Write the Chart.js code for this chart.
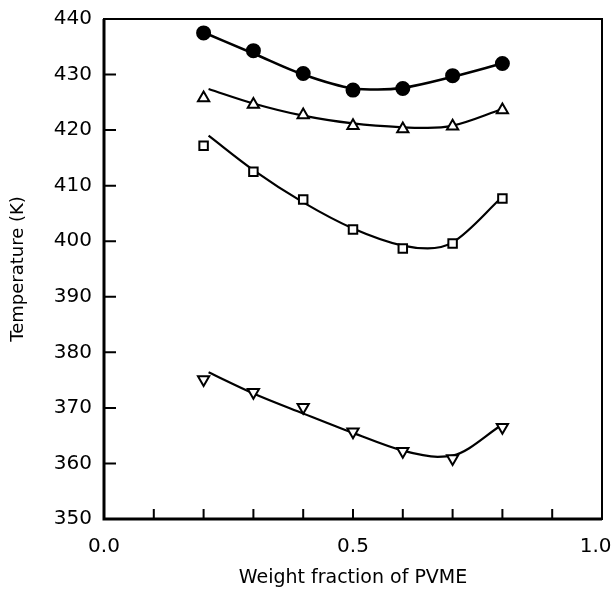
<!DOCTYPE html>
<html>
<head>
<meta charset="utf-8">
<title>Temperature vs weight fraction of PVME</title>
<script src="https://cdn.jsdelivr.net/npm/chart.js@4.4.0/dist/chart.umd.min.js"></script>
<style>
  html, body { margin: 0; padding: 0; background: #fff; }
  #wrap { width: 613px; height: 593px; }
</style>
</head>
<body>
<div id="wrap"><canvas id="chart"></canvas></div>
<script>
// measured points (weight fraction of PVME, temperature K)
const xs = [0.2, 0.3, 0.4, 0.5, 0.6, 0.7, 0.8];
const circleT = [437.5, 434.3, 430.2, 427.2, 427.5, 429.8, 432.0];
const triUpT = [425.8, 424.6, 422.7, 420.8, 420.2, 420.7, 423.6];
const squareT = [417.2, 412.5, 407.5, 402.1, 398.7, 399.6, 407.7];
const triDownT = [375.1, 372.8, 370.1, 365.7, 362.2, 360.9, 366.5];

// fitted curves
const circleFitX = [0.21, 0.3, 0.4, 0.5, 0.55, 0.6, 0.7, 0.8];
const circleFitT = [437.2, 433.8, 430.0, 427.5, 427.3, 427.6, 429.6, 432.0];
const triUpFitX = [0.21, 0.3, 0.4, 0.5, 0.6, 0.65, 0.7, 0.8];
const triUpFitT = [427.4, 424.8, 422.6, 421.2, 420.5, 420.4, 420.8, 423.8];
const squareFitX = [0.21, 0.3, 0.4, 0.5, 0.6, 0.65, 0.7, 0.8];
const squareFitT = [419.0, 412.8, 407.0, 402.3, 399.2, 398.7, 399.8, 408.0];
const triDownFitX = [0.21, 0.3, 0.4, 0.5, 0.6, 0.67, 0.7, 0.8];
const triDownFitT = [376.4, 372.6, 369.0, 365.5, 362.3, 361.2, 361.4, 367.0];

// only three x labels are printed; trailing spaces pull "1.0" in from the edge
const xLabels = { '0': '0.0', '0.5': '0.5', '1': '1.0  ' };

function pts(x, y) {
  return x.map((v, i) => ({ x: v, y: y[i] }));
}

function fitLine(x, y, w) {
  return {
    data: pts(x, y),
    showLine: true,
    borderColor: '#000',
    borderWidth: w || 2.2,
    pointRadius: 0,
    cubicInterpolationMode: 'monotone',
    order: 2
  };
}

function markers(y, style, opts) {
  return Object.assign({
    data: pts(xs, y),
    showLine: false,
    pointStyle: style,
    pointRadius: 6,
    borderColor: '#000',
    borderWidth: 2,
    backgroundColor: '#fff',
    order: 1
  }, opts || {});
}

// frame and inward ticks
const frame = {
  id: 'frame',
  afterDraw(chart) {
    const ctx = chart.ctx;
    const a = chart.chartArea;
    const xs_ = chart.scales.x, ys_ = chart.scales.y;
    ctx.save();
    ctx.strokeStyle = '#000';
    ctx.lineWidth = 2;
    ctx.strokeRect(a.left, a.top, a.right - a.left, a.bottom - a.top);
    ctx.lineWidth = 3;
    ctx.beginPath();
    ctx.moveTo(a.left, a.top);
    ctx.lineTo(a.left, a.bottom);
    ctx.lineTo(a.right, a.bottom);
    ctx.stroke();
    ctx.lineWidth = 2;
    ctx.beginPath();
    for (let v = 360; v < 440; v += 10) {
      const py = ys_.getPixelForValue(v);
      ctx.moveTo(a.left, py);
      ctx.lineTo(a.left + 12, py);
    }
    for (let i = 1; i < 10; i++) {
      const px = xs_.getPixelForValue(i / 10);
      ctx.moveTo(px, a.bottom);
      ctx.lineTo(px, a.bottom - 10);
    }
    ctx.stroke();
    ctx.restore();
  }
};

new Chart(document.getElementById('chart'), {
  type: 'scatter',
  data: {
    datasets: [
      fitLine(circleFitX, circleFitT, 2.6),
      fitLine(triUpFitX, triUpFitT),
      fitLine(squareFitX, squareFitT),
      fitLine(triDownFitX, triDownFitT),
      markers(circleT, 'circle', { backgroundColor: '#000', pointRadius: 6.5 }),
      markers(triUpT, 'triangle', { pointRadius: 6.5 }),
      markers(squareT, 'rect', { pointRadius: 6 }),
      markers(triDownT, 'triangle', { pointRadius: 6.5, rotation: 180 })
    ]
  },
  options: {
    responsive: true,
    maintainAspectRatio: false,
    animation: false,
    layout: { padding: { left: 0, right: 11, top: 19, bottom: 0 } },
    plugins: { legend: { display: false }, tooltip: { enabled: false } },
    scales: {
      x: {
        type: 'linear',
        min: 0, max: 1,
        grid: { display: false },
        border: { display: false },
        ticks: {
          stepSize: 0.1,
          autoSkip: false,
          maxRotation: 0,
          padding: 8,
          color: '#000',
          font: { family: 'DejaVu Sans', size: 20 },
          callback: (v) => xLabels[String(Math.round(v * 10) / 10)] || ''
        },
        title: {
          display: true,
          text: 'Weight fraction of PVME',
          color: '#000',
          font: { family: 'DejaVu Sans', size: 19 },
          padding: { top: 8, bottom: 4 }
        },
        afterFit(s) { s.height = 74; s.paddingLeft = 0; s.paddingRight = 0; }
      },
      y: {
        min: 350, max: 440,
        grid: { display: false },
        border: { display: false },
        ticks: {
          stepSize: 10,
          padding: 4,
          color: '#000',
          font: { family: 'DejaVu Sans', size: 20 }
        },
        title: {
          display: true,
          text: 'Temperature (K)',
          color: '#000',
          font: { family: 'DejaVu Sans', size: 18 },
          padding: { top: 8, bottom: 8 }
        },
        afterFit(s) { s.width = 104; s.paddingTop = 0; s.paddingBottom = 0; }
      }
    }
  },
  plugins: [frame]
});
</script>
</body>
</html>
